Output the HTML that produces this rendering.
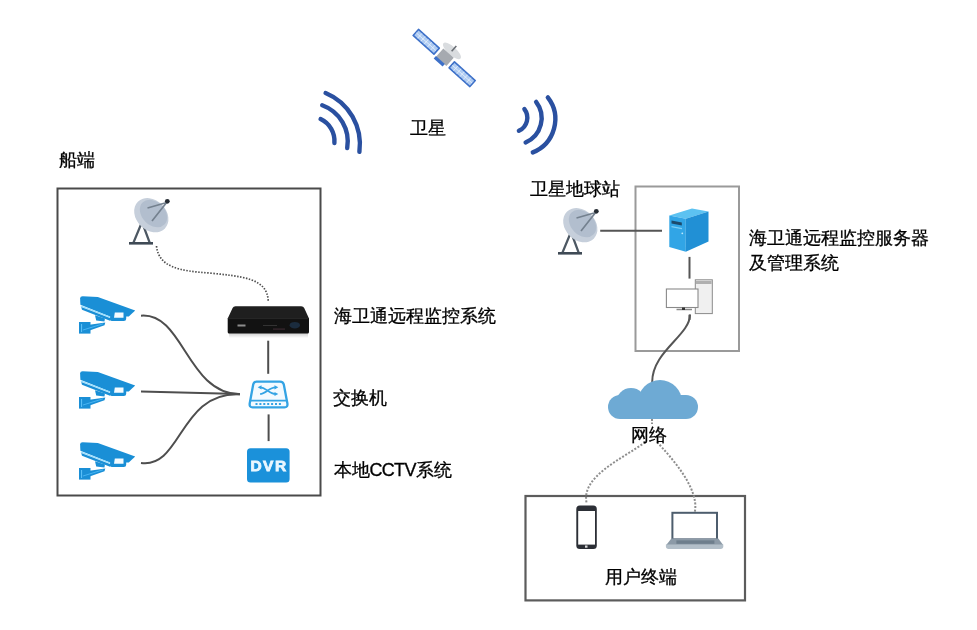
<!DOCTYPE html><html><head><meta charset="utf-8"><style>
html,body{margin:0;padding:0;background:#fff;width:977px;height:630px;overflow:hidden}
svg{position:absolute;left:0;top:0}
.t{position:absolute;font-family:"Liberation Sans",sans-serif;font-size:18px;color:#111;white-space:nowrap;line-height:1;-webkit-text-stroke:0.3px #000;color:#000}
</style></head><body>
<div id="w" style="position:absolute;left:0;top:0;width:977px;height:630px;filter:blur(0.3px)">
<svg width="977" height="630" viewBox="0 0 977 630">
<defs>
<g id="dish">
  <path d="M142 222 L133.3 243 M142 222 L149.8 243" stroke="#4d5863" stroke-width="2.2" fill="none"/>
  <path d="M129 243.3 H153" stroke="#3f4a55" stroke-width="2.6"/>
  <ellipse cx="151.3" cy="215.2" rx="19" ry="15" transform="rotate(45 151.3 215.2)" fill="#c6cfdb"/>
  <ellipse cx="153.5" cy="213.5" rx="15.5" ry="11.5" transform="rotate(45 153.5 213.5)" fill="#b2bece"/>
  <path d="M147.5 208 L165 203 M152 221 L167 202" stroke="#74818f" stroke-width="1.7"/>
  <circle cx="167.3" cy="201.3" r="2.4" fill="#262c33"/>
</g>
<g id="cam">
  <path d="M6.1 8.6 Q6.1 6.3 8.6 6.3 L23.8 7 L61.2 20.6 L54.8 26.6 L36 26.6 L6.4 14.8 Z" fill="#1a8fd6"/>
  <path d="M6.8 15.9 L36 27.1" stroke="#8fdcff" stroke-width="1.1"/>
  <path d="M7.2 17 L36 28 L36 30.8 L8 19.8 Z" fill="#1a8fd6"/>
  <path d="M39 20.7 H49.8 Q52.2 20.7 52.2 23 V28.8 Q52.2 31.1 49.8 31.1 H37.8 Q35.6 31.1 35.9 29 L36.6 23 Q36.9 20.7 39 20.7 Z" fill="#1a8fd6"/>
  <path d="M40.8 22.6 H49.5 V27.8 H40 Z" fill="#f4fbff"/>
  <path d="M21 25.2 L31 28.6 L30.4 31.4 L22.2 30.4 Z" fill="#1a8fd6"/>
  <path d="M12 35.2 L31.3 32.5 L30.5 35.2 L12 41.8 Z" fill="#1a8fd6"/>
  <rect x="5" y="32" width="11.5" height="11.6" fill="#1a8fd6"/>
  <path d="M7.6 34 V42" stroke="#6cccff" stroke-width="0.9"/>
  <path d="M9 40 L29 33.8" stroke="#5cc4ff" stroke-width="0.7"/>
</g>
</defs>

<!-- boxes -->
<rect x="57.5" y="188.5" width="263" height="307" fill="none" stroke="#4a4a4a" stroke-width="2"/>
<rect x="635.5" y="186.5" width="103.5" height="164.5" fill="none" stroke="#9a9a9a" stroke-width="2"/>
<rect x="525.5" y="496" width="219.5" height="104.4" fill="none" stroke="#5c5c5c" stroke-width="2.2"/>

<!-- satellite -->
<g transform="translate(444.2 58) rotate(42)">
  <ellipse cx="1" cy="-10.5" rx="11.5" ry="4.2" fill="#d9dcdf"/>
  <path d="M1 -10 V-17" stroke="#6a6f75" stroke-width="1.6"/>
  <rect x="-39" y="-4.8" width="29.6" height="9.6" rx="0.8" fill="#3d70c8"/>
  <rect x="-37.4" y="-3.2" width="26.4" height="6.4" fill="#aecbf2"/>
  <path d="M-37.4 0 H-11 M-33 -3.2 V3.2 M-28.6 -3.2 V3.2 M-24.2 -3.2 V3.2 M-19.8 -3.2 V3.2 M-15.4 -3.2 V3.2" stroke="#e6f0fc" stroke-width="0.8"/>
  <rect x="9.4" y="-4.8" width="29.6" height="9.6" rx="0.8" fill="#3d70c8"/>
  <rect x="11" y="-3.2" width="26.4" height="6.4" fill="#aecbf2"/>
  <path d="M11 0 H37.4 M15.4 -3.2 V3.2 M19.8 -3.2 V3.2 M24.2 -3.2 V3.2 M28.6 -3.2 V3.2 M33 -3.2 V3.2" stroke="#e6f0fc" stroke-width="0.8"/>
  <rect x="-7" y="-6.5" width="14" height="11" fill="#a6aab0"/>
  <rect x="-7.5" y="4" width="12" height="3.4" fill="#3d70c8"/>
</g>

<!-- waves -->
<g stroke="#2a50a0" stroke-width="4.4" fill="none" stroke-linecap="round">
  <path d="M325.6 93 A55.6 55.6 0 0 1 359.4 151.9"/>
  <path d="M322.2 105.2 A38.6 38.6 0 0 1 347.2 148"/>
  <path d="M320.6 119.1 A24.2 24.2 0 0 1 334.4 143"/>
  <path d="M524.4 109.1 A14.3 14.3 0 0 1 518.9 130.8"/>
  <path d="M536.1 101.9 A26.5 26.5 0 0 1 525.6 142.4"/>
  <path d="M547.8 97.4 A35.7 35.7 0 0 1 532.8 152.4"/>
</g>

<!-- dishes -->
<use href="#dish"/>
<use href="#dish" transform="translate(429 10)"/>

<!-- dotted ship line -->
<path d="M156.5 246 C158.6 267.3 179.8 271.1 209.5 273 C240.7 276.4 268.3 277.5 268.2 302" stroke="#505050" stroke-width="1.7" stroke-dasharray="1.5 1.5" fill="none"/>

<!-- NVR -->
<linearGradient id="nvrRef" x1="0" y1="0" x2="0" y2="1"><stop offset="0" stop-color="#c8c8c8"/><stop offset="1" stop-color="#fff"/></linearGradient>
<rect x="229" y="332.5" width="79" height="5.5" fill="url(#nvrRef)"/>
<path d="M235.5 306.2 H301.2 Q303.4 306.2 304.2 308 L309 318.5 H227.7 L232.6 308 Q233.4 306.2 235.5 306.2 Z" fill="#1f1f1f"/>
<path d="M227.7 318 H309 V332 Q309 333.6 307.5 333.6 H229.2 Q227.7 333.6 227.7 332 Z" fill="#121212"/>
<path d="M228 318.6 H308.7" stroke="#2e2e2e" stroke-width="0.8"/>
<rect x="237.5" y="324.5" width="8" height="2" fill="#8d8d8d"/>
<rect x="263" y="325" width="14" height="1" fill="#333"/>
<rect x="273" y="328.5" width="12" height="1.2" fill="#3a2830"/>
<ellipse cx="294.8" cy="325.2" rx="5.2" ry="3.3" fill="#1b2c3e"/>

<!-- left connectors -->
<g stroke="#4e4e4e" stroke-width="2" fill="none">
  <path d="M268.2 340.7 V373.8"/>
  <path d="M268.6 414.4 V441.1"/>
  <path d="M141 315.7 C183.7 312.3 186.7 393.6 240 394.3"/>
  <path d="M141 391.5 L240 394"/>
  <path d="M141 462.9 C182.1 468.6 179 391.5 240 394.3"/>
</g>

<!-- switch -->
<path d="M256.5 381.6 H280 Q283.2 381.6 283.8 384.5 L287.4 403.5 Q287.9 407.4 284.5 407.4 H252.6 Q249.2 407.4 249.7 403.5 L253.2 384.5 Q253.8 381.6 256.5 381.6 Z" fill="#f3faff" stroke="#33a3e4" stroke-width="2.3"/>
<path d="M250.2 400.6 H287" stroke="#33a3e4" stroke-width="1.7"/>
<path d="M255.5 404 H282" stroke="#33a3e4" stroke-width="1.8" stroke-dasharray="2 1.9"/>
<path d="M260 387.3 C266 387.3 269 394 275.5 394 M260 394 C266 394 269 387.3 275.5 387.3" stroke="#33a3e4" stroke-width="1.7" fill="none"/>
<path d="M274.5 385.2 L278.3 387.3 L274.5 389.4 Z M274.5 391.9 L278.3 394 L274.5 396.1 Z M261.5 385.2 L257.7 387.3 L261.5 389.4 Z" fill="#33a3e4"/>

<!-- DVR -->
<rect x="247" y="448.2" width="42.6" height="34.2" rx="3.5" fill="#1b91da"/>

<!-- cameras -->
<use href="#cam" transform="translate(74 290)"/>
<use href="#cam" transform="translate(74 365)"/>
<use href="#cam" transform="translate(74 436)"/>

<!-- right connectors -->
<g stroke="#555" stroke-width="2" fill="none">
  <path d="M600.2 230.7 H662"/>
  <path d="M689.5 256.9 V278.6"/>
  <path d="M690 314.4 C690 335.8 652.2 351 652.2 382"/>
</g>

<!-- server -->
<path d="M669.3 215.6 L692 208.4 L708.5 211.5 L685.8 218.7 Z" fill="#5cc2f1"/>
<path d="M669.3 215.6 L685.8 218.7 V251.7 L669.3 247 Z" fill="#31a5e6"/>
<path d="M685.8 218.7 L708.5 211.5 V241.4 L685.8 251.7 Z" fill="#2190d5"/>
<path d="M671.5 220.4 L681.8 222.4 V225.4 L671.5 223.4 Z" fill="#1d4a6c"/>
<path d="M671.5 226 L682 228 V229.2 L671.5 227.2 Z" fill="#7fd0f6"/>
<circle cx="682.3" cy="233.3" r="0.9" fill="#bfe8fb"/>

<!-- PC -->
<rect x="695.3" y="279.8" width="17" height="33.8" fill="#f0f0f0" stroke="#8a8a8a" stroke-width="1"/>
<rect x="696" y="281" width="15.6" height="3" fill="#b0b0b0"/>
<rect x="666.4" y="289" width="31.6" height="18.5" fill="#fff" stroke="#8a8a8a" stroke-width="1.1"/>
<path d="M676.5 309.5 H692" stroke="#8a8a8a" stroke-width="1.5"/>
<rect x="682" y="307.5" width="3" height="2.5" fill="#333"/>
<path d="M689.5 314.7 V320" stroke="#555" stroke-width="2"/>

<!-- cloud -->
<clipPath id="cc"><rect x="600" y="370" width="110" height="49"/></clipPath>
<g fill="#6eaad4" clip-path="url(#cc)">
  <circle cx="660" cy="402" r="22"/>
  <circle cx="631" cy="403" r="15"/>
  <rect x="608" y="395" width="90" height="24" rx="12"/>
</g>

<!-- network dotted -->
<g stroke="#8e8e8e" stroke-width="2" stroke-dasharray="2 1.6" fill="none">
  <path d="M652 419 V424"/>
  <path d="M645 442.3 C621.9 459.2 580.9 476.2 586.6 503"/>
  <path d="M657.3 442.3 C670.3 456.6 699.7 488 694.8 512"/>
</g>

<!-- phone -->
<rect x="576.3" y="505.4" width="20.5" height="43.5" rx="3.5" fill="#2c2f36"/>
<rect x="578.2" y="511" width="16.8" height="33.6" fill="#fff"/>
<rect x="585" y="545.5" width="2.5" height="2.2" fill="#ddd"/>

<!-- laptop -->
<rect x="672.4" y="512.8" width="44.6" height="26.6" fill="#fff" stroke="#4d5d6d" stroke-width="2"/>
<path d="M671.4 538.5 H718.3 L723.2 545 H666.2 Z" fill="#8c9aa7"/>
<rect x="676.4" y="540.4" width="38" height="3.4" fill="#6e7e8c"/>
<path d="M665.9 544.6 H723.3 V546.5 Q723.3 548.9 720.5 548.9 H668.5 Q665.9 548.9 665.9 546.5 Z" fill="#b3bfc9"/>
</svg>

<div class="t" style="left:410.3px;top:119px">卫星</div>
<div class="t" style="left:58.8px;top:150.5px">船端</div>
<div class="t" style="left:530px;top:179.5px">卫星地球站</div>
<div class="t" style="left:749px;top:229px">海卫通远程监控服务器</div>
<div class="t" style="left:749px;top:253.5px">及管理系统</div>
<div class="t" style="left:334px;top:306.8px">海卫通远程监控系统</div>
<div class="t" style="left:333.3px;top:388.5px">交换机</div>
<div class="t" style="left:333.5px;top:461px">本地<span style="letter-spacing:-0.7px">CCTV</span>系统</div>
<div class="t" style="left:630.8px;top:425.5px">网络</div>
<div class="t" style="left:604.6px;top:568px">用户终端</div>
<div style="position:absolute;left:247px;top:448px;width:42.6px;height:34.4px;text-align:center;color:#eaf7ff;font:bold 15.5px/35px 'Liberation Sans',sans-serif;letter-spacing:1.5px;text-indent:1.5px;-webkit-text-stroke:0.8px #eaf7ff">DVR</div>
</div>
</body></html>
